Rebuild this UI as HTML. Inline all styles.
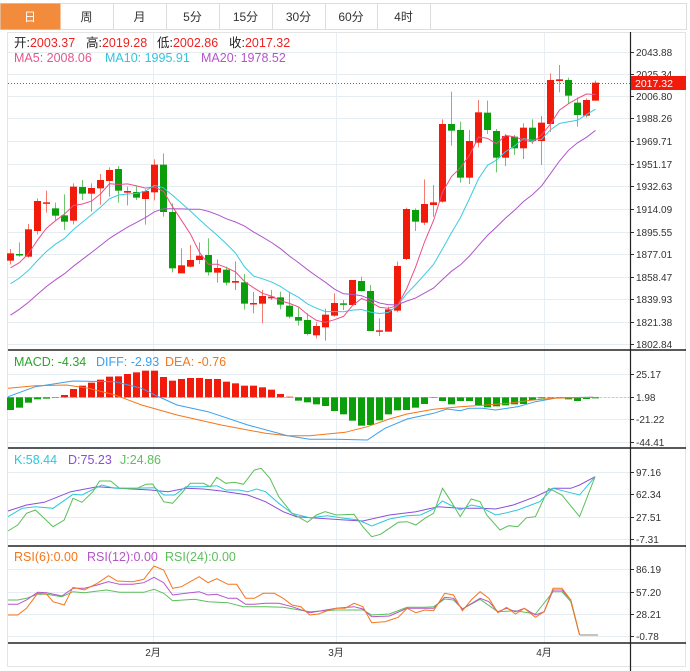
<!DOCTYPE html>
<html><head><meta charset="utf-8"><style>
body{margin:0;background:#fff;width:690px;height:671px;overflow:hidden;font-family:"Liberation Sans","Noto Sans CJK SC",sans-serif}
svg{position:absolute;left:0;top:0}
</style></head><body>
<svg id="s" width="690" height="671" xmlns="http://www.w3.org/2000/svg" font-family="Liberation Sans, Noto Sans CJK SC, sans-serif"></svg>
<script>
var o='';
function L(x1,y1,x2,y2,c,w,d){o+='<line x1="'+x1+'" y1="'+y1+'" x2="'+x2+'" y2="'+y2+'" stroke="'+c+'" stroke-width="'+(w||1)+'"'+(d?' stroke-dasharray="'+d+'"':'')+'/>';}
function R(x,y,w,h,c,s){o+='<rect x="'+x+'" y="'+y+'" width="'+w+'" height="'+h+'" fill="'+c+'"'+(s?' stroke="'+s+'"':'')+'/>';}
function T(x,y,t,c,sz,a){o+='<text x="'+x+'" y="'+y+'" fill="'+c+'" font-size="'+(sz||11)+'"'+(a?' text-anchor="'+a+'"':'')+'>'+t+'</text>';}
function P(pts,c,w){o+='<polyline fill="none" stroke="'+c+'" stroke-width="'+(w||1)+'" points="'+pts.map(function(p){return p[0].toFixed(1)+','+p[1].toFixed(1)}).join(' ')+'"/>';}
// tabs
R(0.5,3.5,686,26,'#fff','#ddd');
var tabs=['日','周','月','5分','15分','30分','60分','4时'],tx=[0,60,113,166,219,272,325,377,430];
for(var i=0;i<8;i++){ if(i==0)R(0.5,3.5,60,26,'#f28c3c'); else L(tx[i+1]+.5,3.5,tx[i+1]+.5,29.5,'#ddd');
 T((tx[i]+tx[i+1])/2,21,tabs[i],i==0?'#fff':'#333',12,'middle');}
// frame
R(7.5,32.5,678,634,'none','#e4e4e4');
var pl=[['2043.88',52],['2025.34',74],['2006.80',96],['1988.26',118],['1969.71',141],['1951.17',164],['1932.63',186],['1914.09',209],['1895.55',232],['1877.01',254],['1858.47',277],['1839.93',299],['1821.38',322],['1802.84',344]];
var panels=[[pl,1],[[['25.17',374],['1.98',397],['-21.22',419],['-44.41',442]],1],[[['97.16',472],['62.34',494],['27.51',517],['-7.31',539]],1],[[['86.19',569],['57.20',592],['28.21',614],['-0.78',636]],1]];
panels.forEach(function(p){p[0].forEach(function(a){L(8,a[1]+.5,630,a[1]+.5,'#e6edf2');L(630,a[1]+.5,634,a[1]+.5,'#333');T(636,a[1]+4,a[0],'#333',10);});});
[153,336,544].forEach(function(x){L(x+.5,33,x+.5,643,'#e8eef2');});
[350,448,546,643].forEach(function(y){L(8,y,686,y,'#222',1.5);});
L(630.5,32,630.5,671,'#222',1.2);
T(153,656,'2月','#333',10,'middle');T(336,656,'3月','#333',10,'middle');T(544,656,'4月','#333',10,'middle');
var c=[[580,602,567,613,'r'],[582,585,547,590,'g'],[508,590,492,593,'r'],[423,513,415,523,'r'],[427,431,392,458,'r'],[445,467,428,480,'g'],[466,485,403,510,'g'],[380,482,370,493,'r'],[381,401,360,420,'g'],[384,401,370,455,'r'],[360,385,342,434,'r'],[330,363,322,410,'r'],[327,392,318,428,'g'],[393,398,380,436,'r'],[396,413,378,420,'g'],[393,417,388,494,'r'],[314,397,298,421,'r'],[314,456,280,470,'g'],[456,625,430,637,'g'],[616,640,565,640,'r'],[600,620,555,622,'r'],[587,600,547,612,'r'],[585,637,535,647,'g'],[624,638,598,668,'r'],[629,668,620,676,'g'],[663,668,604,690,'r'],[667,731,642,749,'g'],[729,733,696,760,'r'],[708,731,690,790,'r'],[710,715,690,720,'r'],[712,734,695,748,'g'],[737,770,695,775,'g'],[771,782,742,797,'g'],[780,822,760,826,'g'],[798,826,787,835,'r'],[764,802,746,842,'r'],[729,767,700,770,'r'],[730,733,720,750,'g'],
[660,735,660,735,'r'],[663,693,650,695,'g'],[693,813,675,813,'g'],[811,815,775,828,'r'],[748,815,740,815,'r'],[618,752,605,757,'r'],[447,597,443,600,'r'],[450,485,445,513,'g'],[432,488,358,495,'r'],[427,435,375,470,'r'],[192,425,178,428,'r'],[192,212,95,257,'g'],[210,353,185,368,'g'],[243,353,210,372,'r'],[157,248,120,262,'r'],[158,210,122,222,'g'],[213,293,207,337,'g'],[228,293,222,318,'r'],[230,265,225,285,'g'],[203,265,190,297,'r'],[203,243,178,252,'g'],[188,243,168,315,'r'],[60,192,40,216,'r'],[58,63,15,97,'r'],[60,107,53,130,'g'],[128,165,112,200,'g'],[120,167,115,173,'r'],[68,122,62,122,'r']];
var closes=[];
L(8,83.5,630,83.5,'#e33',1,'1,2');
c.forEach(function(k,i){var x=10+9*i,col=k[4]=='r'?'#f21a0a':'#0a9e0a';var t=60+k[0]/3,b=60+k[1]/3;
 L(x+.5,60+k[2]/3,x+.5,60+k[3]/3,col=='#f21a0a'?'#f57a70':'#6cc66c');R(x-3,t,7,Math.max(1.5,b-t),col);
 closes.push(k[4]=='r'?t:b);});
var pad=[];for(var i=0;i<19;i++)pad.push(375-(113*i/18));var all=pad.concat(closes);
function ma(n){var r=[];for(var i=0;i<closes.length;i++){var s=0;for(var j=0;j<n;j++)s+=all[19+i-j];r.push([10+9*i+.5,s/n]);}return r;}
P(ma(20),'#b154cc');P(ma(10),'#3ccbe0');P(ma(5),'#ec4f86');
R(631,76,55,14,'#f21a0a');T(635,87,'2017.32','#fff',10.5);
function H(y,items){items.forEach(function(it){o+='<text x="'+it[0]+'" y="'+y+'" font-size="12.5" fill="'+it[2]+'">'+it[1]+'</text>';});}
o+='<text x="14" y="47" font-size="12.5" fill="#222">开:<tspan fill="#e22">2003.37</tspan></text>';
o+='<text x="86" y="47" font-size="12.5" fill="#222">高:<tspan fill="#e22">2019.28</tspan></text>';
o+='<text x="157" y="47" font-size="12.5" fill="#222">低:<tspan fill="#e22">2002.86</tspan></text>';
o+='<text x="229" y="47" font-size="12.5" fill="#222">收:<tspan fill="#e22">2017.32</tspan></text>';
H(62,[[14,'MA5: 2008.06','#e8558a'],[105,'MA10: 1995.91','#33c4dc'],[201,'MA20: 1978.52','#b554c8']]);
var mb=[195,188,173,163,161,158,150,132,122,113,104,95,94,87,82,77,77,96,107,102,99,99,102,102,110,115,122,122,127,134,147,155,167,172,178,183,198,208,227,242,240,226,208,196,195,188,177,158,168,178,168,168,180,187,184,181,178,177,165,160,158,160,163,168,162,160];
L(8,397.5,630,397.5,'#9fd6f0',1,'2,2');
mb.forEach(function(v,i){var y=345+v/3,z=345+157/3,x=10+9*i;if(y<z)R(x-3,y,7,z-y,'#f21a0a');else R(x-3,z,7,Math.max(.5,y-z),'#0a9e0a');});
function cv(a,off){return a.map(function(p){return [p[0]/2.26,off+p[1]/3];});}
P(cv([[18,155],[80,125],[165,108],[260,110],[320,130],[350,150],[400,180],[470,200],[560,240],[650,272],[700,283],[760,283],[830,285],[870,250],[920,222],[980,205],[1010,192],[1040,197],[1060,190],[1090,190],[1120,195],[1170,185],[1210,170],[1260,158],[1340,157]],345),'#3aa0f0');
P(cv([[18,130],[80,122],[150,120],[200,130],[260,150],[320,180],[400,210],[500,240],[600,265],[650,272],[700,272],[780,262],[830,245],[880,222],[920,207],[980,193],[1040,185],[1100,180],[1150,175],[1200,166],[1250,160],[1340,157]],345),'#f5761a');
H(366,[[14,'MACD: -4.34','#2aa52a'],[96,'DIFF: -2.93','#3aa0f0'],[165,'DEA: -0.76','#f5761a']]);
P(cv([[18,198],[60,180],[100,172],[160,140],[220,125],[270,130],[340,135],[380,140],[420,130],[460,132],[500,138],[560,150],[600,170],[640,200],[670,215],[720,220],[780,225],[820,228],[880,210],[940,200],[990,185],[1040,190],[1090,190],[1120,192],[1160,180],[1210,155],[1250,130],[1290,130],[1310,120],[1345,95]],445),'#8a4fd8');
P(cv([[18,215],[50,190],[80,185],[120,190],[165,148],[185,150],[230,120],[260,130],[300,130],[350,128],[370,150],[395,150],[420,125],[460,125],[490,122],[510,135],[540,135],[560,140],[580,132],[600,140],[630,175],[660,205],[700,218],[740,212],[770,218],[810,225],[840,243],[880,222],[920,212],[950,210],[980,192],[1000,168],[1040,195],[1065,180],[1085,185],[1120,210],[1140,205],[1170,195],[1200,180],[1220,170],[1250,130],[1280,140],[1310,150],[1345,95]],445),'#2cc8dc');
P(cv([[18,258],[40,240],[60,205],[80,195],[120,245],[145,225],[165,160],[185,172],[210,140],[225,108],[250,108],[270,130],[310,130],[330,118],[345,117],[370,170],[390,175],[430,115],[460,115],[475,125],[490,97],[510,115],[530,112],[550,118],[575,75],[590,70],[610,100],[630,155],[660,205],[695,232],[715,210],[735,200],[760,210],[800,208],[820,245],[840,275],[860,268],[900,232],[920,230],[940,240],[960,220],[980,205],[1000,130],[1020,170],[1040,215],[1065,162],[1085,170],[1100,210],[1130,255],[1150,242],[1170,245],[1190,218],[1210,215],[1240,130],[1270,150],[1310,215],[1345,95]],445),'#5cbf5c');
H(464,[[14,'K:58.44','#2cc8dc'],[68,'D:75.23','#8a4fd8'],[120,'J:24.86','#5cbf5c']]);
P(cv([[18,180],[40,180],[60,175],[85,163],[105,163],[140,170],[165,155],[190,158],[240,150],[270,157],[300,157],[325,157],[348,148],[370,160],[390,182],[440,178],[470,185],[515,188],[550,200],[600,200],[640,202],[700,215],[760,210],[820,210],[840,225],[880,222],[920,202],[960,202],[980,200],[1005,177],[1025,180],[1045,207],[1085,178],[1125,215],[1165,212],[1210,222],[1250,155],[1270,155],[1290,185],[1310,285]],540),'#5cbf5c');
P(cv([[18,193],[40,193],[60,180],[85,157],[105,158],[140,168],[165,145],[190,145],[220,135],[245,125],[270,133],[300,133],[325,128],[348,112],[370,128],[390,165],[420,160],[450,155],[470,165],[490,163],[515,175],[535,175],[555,193],[575,193],[600,190],[630,190],[660,200],[700,218],[760,205],[800,200],[820,207],[840,230],[880,228],[920,205],[960,205],[980,205],[1005,172],[1025,175],[1045,207],[1085,175],[1105,185],[1125,215],[1145,205],[1165,215],[1185,205],[1210,225],[1230,215],[1250,150],[1270,150],[1290,180],[1310,285]],540),'#b554c8');
P(cv([[18,225],[40,225],[60,205],[85,160],[105,162],[120,185],[145,195],[165,142],[190,150],[220,130],[245,107],[265,123],[300,125],[325,118],[348,78],[370,90],[390,145],[410,140],[450,110],[470,128],[490,116],[515,133],[535,133],[555,175],[575,175],[595,160],[620,160],[640,175],[660,195],[680,200],[700,225],[720,222],[740,212],[760,205],[780,205],[800,190],[820,200],[840,248],[870,245],[900,232],[920,205],[940,218],[960,210],[980,212],[1005,160],[1025,165],[1045,212],[1065,180],[1085,155],[1105,175],[1125,218],[1145,202],[1165,222],[1185,205],[1210,232],[1230,215],[1250,145],[1270,145],[1290,180],[1310,285]],540),'#f5761a');
L(580,635,598,635,'#b8b0a0',1.5);
H(561,[[14,'RSI(6):0.00','#f5761a'],[87,'RSI(12):0.00','#b554c8'],[165,'RSI(24):0.00','#5cbf5c']]);
document.getElementById('s').innerHTML=o;
</script>
</body></html>
